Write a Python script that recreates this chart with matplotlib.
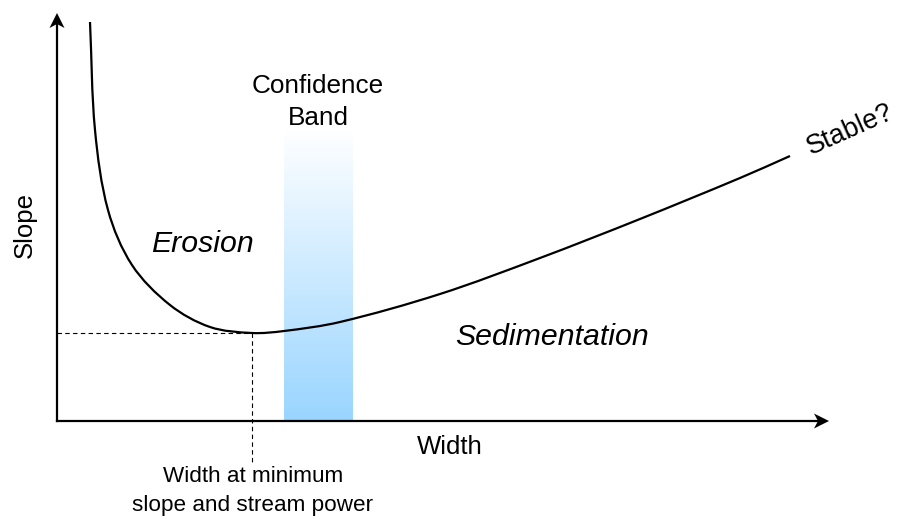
import numpy as np
import matplotlib
matplotlib.use("Agg")
import matplotlib.pyplot as plt
from matplotlib.patches import Polygon, PathPatch
from matplotlib.path import Path

plt.rcParams["font.family"] = ["Liberation Sans", "DejaVu Sans"]

# Slope-width curve (width, slope) in diagram units; origin at the axes corner
width = [33, 38, 51, 75, 113, 153, 195, 227, 283, 383, 483, 583, 683, 733]
slope = [399, 291, 211, 156, 116, 94, 88, 90, 99, 127, 163, 202, 243, 265]

# Minimum-slope point and confidence band limits
w_min, s_min = 195, 88
band_left, band_right, band_top = 227, 296, 292

x_axis_end, y_axis_end = 772, 408

fig = plt.figure(figsize=(8.98, 5.19), dpi=100)
ax = fig.add_axes([0, 0, 1, 1])
ax.set_xlim(-57, 841)
ax.set_ylim(-98, 421)
ax.axis("off")

# Confidence band: vertical gradient from white (top) to light blue (bottom)
grad = np.linspace(1, 0, 256).reshape(-1, 1)
top_c = np.array([1.0, 1.0, 1.0])
bot_c = np.array([0.60, 0.835, 1.0])
img = top_c * grad[..., None] + bot_c * (1 - grad[..., None])
ax.imshow(img, extent=[band_left, band_right, 0, band_top], aspect="auto",
          origin="upper", zorder=1, interpolation="bilinear")

# Dashed guide lines to the minimum
ax.plot([0, w_min], [s_min, s_min], color="black", lw=0.8,
        dashes=(4, 3), zorder=2)
ax.plot([w_min, w_min], [s_min, -41], color="black", lw=0.8,
        dashes=(4, 3), zorder=2)


def smooth_path(xs, ys):
    """Cubic Bezier path through the points (chord-length Catmull-Rom)."""
    pts = np.column_stack([xs, ys]).astype(float)
    n = len(pts)
    t = np.concatenate([[0.0], np.cumsum(np.hypot(*np.diff(pts, axis=0).T))])
    tang = np.zeros_like(pts)
    for i in range(n):
        a, b = max(i - 1, 0), min(i + 1, n - 1)
        tang[i] = (pts[b] - pts[a]) / (t[b] - t[a])
    verts = [pts[0]]
    codes = [Path.MOVETO]
    for i in range(n - 1):
        h = t[i + 1] - t[i]
        verts += [pts[i] + tang[i] * h / 3.0,
                  pts[i + 1] - tang[i + 1] * h / 3.0,
                  pts[i + 1]]
        codes += [Path.CURVE4] * 3
    return Path(verts, codes)


# Curve
ax.add_patch(PathPatch(smooth_path(width, slope), facecolor="none",
                       edgecolor="black", lw=1.6, capstyle="butt",
                       joinstyle="round", zorder=3))

# Axes with arrowheads
ax.plot([0, x_axis_end - 10], [0, 0], color="black", lw=1.6, zorder=4)
ax.plot([0, 0], [0, y_axis_end - 10], color="black", lw=1.6, zorder=4)
ax.add_patch(Polygon([(x_axis_end, 0), (x_axis_end - 15, 7.5),
                      (x_axis_end - 11, 0), (x_axis_end - 15, -7.5)],
                     closed=True, color="black", zorder=5, lw=0))
ax.add_patch(Polygon([(0, y_axis_end), (7.5, y_axis_end - 15),
                      (0, y_axis_end - 11), (-7.5, y_axis_end - 15)],
                     closed=True, color="black", zorder=5, lw=0))

# Labels
ax.text(-32, 196, "Slope", rotation=90, ha="center", va="center",
        fontsize=18.5)
ax.text(393, -26, "Width", ha="center", va="center", fontsize=18.5)
ax.text(261, 319, "Confidence\nBand", ha="center", va="center",
        fontsize=18.8, linespacing=1.42)
ax.text(145, 177, "Erosion", ha="center", va="center", fontsize=21.8,
        style="italic")
ax.text(495, 84, "Sedimentation", ha="center", va="center", fontsize=21.8,
        style="italic")
ax.text(793, 291, "Stable?", ha="center", va="center", fontsize=19.5,
        rotation=24, rotation_mode="anchor")
ax.text(196, -70, "Width at minimum\nslope and stream power", ha="center",
        va="center", fontsize=16.2, linespacing=1.45)

fig.savefig("out.png", dpi=100)
